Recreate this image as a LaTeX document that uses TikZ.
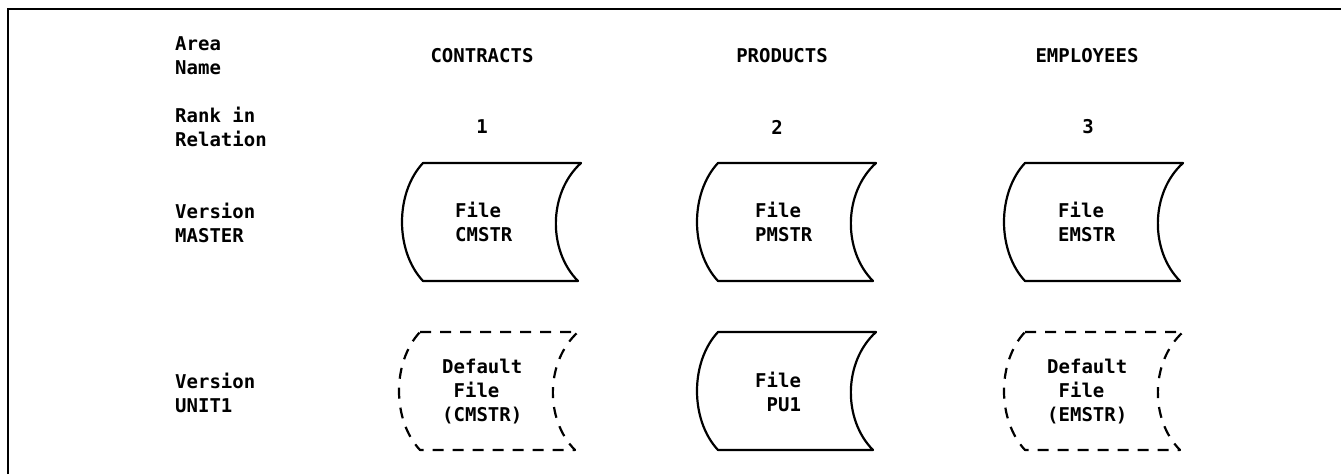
\documentclass[tikz,border=0pt]{standalone}
\usepackage{fontspec}
\newfontfamily\diagfont{DejaVu Sans Mono}
\newcommand\filebox[3]{%
  \draw[#3] (#1,#2) -- ++(158,0)
    .. controls +(-33,30) and +(-30,-30) .. ++(-3,118)
    -- ++(-155,0)
    .. controls +(-28,-30) and +(-28,30) .. (#1,#2) -- cycle;}
\tikzset{
  txt/.style={font={\diagfont\bfseries\fontsize{19}{24}\selectfont}, inner sep=0pt},
  lbl/.style={txt, align=left, anchor=west},
  hdr/.style={txt, anchor=center},
  filesolid/.style={line width=2.2pt, line join=round},
  filedashed/.style={filesolid, dash pattern=on 11pt off 9pt},
  frame/.style={line width=2.5pt},
}
\begin{document}
\begin{tikzpicture}[x=1pt,y=-1pt]
\useasboundingbox (0,0) rectangle (1341,474);
% frame
\draw[frame] (8,474) -- (8,9) -- (1341,9);
% row labels
\node[lbl] (lArea) at (175,55.5) {Area\\Name};
\node[lbl] (lRank) at (175,126.5) {Rank in\\Relation};
\node[lbl] (lMaster) at (175,223) {Version\\MASTER};
\node[lbl] (lUnit) at (175,393) {Version\\UNIT1};
% column headers
\node[hdr] (hC) at (482,55.5) {CONTRACTS};
\node[hdr] (hP) at (782,55.5) {PRODUCTS};
\node[hdr] (hE) at (1087,55.5) {EMPLOYEES};
\node[hdr] (n1) at (482,127) {1};
\node[hdr] (n2) at (777,127) {2};
\node[hdr] (n3) at (1088,127) {3};
% MASTER row
\filebox{423}{163}{filesolid}
\filebox{718}{163}{filesolid}
\filebox{1025}{163}{filesolid}
\node[lbl] (fC) at (455,222) {File\\CMSTR};
\node[lbl] (fP) at (755,222) {File\\PMSTR};
\node[lbl] (fE) at (1058,222) {File\\EMSTR};
% UNIT1 row
\filebox{420}{332}{filedashed}
\filebox{718}{332}{filesolid}
\filebox{1025}{332}{filedashed}
\node[lbl] (uC) at (442,391.5) {Default\\\hphantom{F}File\\(CMSTR)};
\node[lbl] (uP) at (755,391.5) {File\\\hphantom{F}PU1};
\node[lbl] (uE) at (1047,391.5) {Default\\\hphantom{F}File\\(EMSTR)};
\end{tikzpicture}
\end{document}
